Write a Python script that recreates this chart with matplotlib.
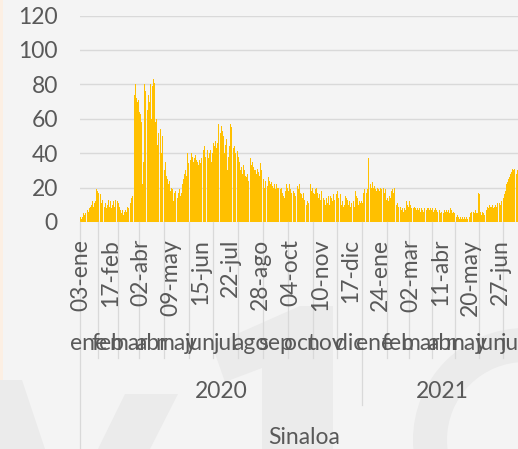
import numpy as np
import matplotlib
matplotlib.use('Agg')
import matplotlib.pyplot as plt
from matplotlib.patches import Polygon, Wedge, Rectangle
from matplotlib.transforms import blended_transform_factory

plt.rcParams['font.family'] = ['Lato', 'DejaVu Sans']

# daily values, Sinaloa
values = [
    3, 2, 4, 3, 5, 4, 5, 6, 4, 7, 6, 8, 9, 7, 10, 12, 9, 11, 14, 12, 19, 18,
    17, 15, 13, 16, 11, 13, 10, 12, 9, 11, 8, 10, 7, 13, 9, 12, 8, 11, 10,
    12, 9, 13, 10, 8, 12, 11, 9, 7, 6, 5, 7, 4, 6, 5, 7, 6, 9, 8, 10, 12, 11, 14,
    15, 81, 79, 74, 80, 72, 70, 66, 71, 64, 63, 58, 62, 22, 35, 80, 76, 79,
    72, 65, 74, 70, 80, 77, 60, 79, 83, 81, 62, 58, 60, 45, 52, 48,
    55, 54, 40, 50, 48, 46, 30, 35, 27, 25, 26, 22, 24,
    18, 20, 15, 19, 12, 17, 18, 16, 19, 14, 17, 19, 15, 18, 17,
    22, 25, 28, 24, 30, 27, 40, 34, 39, 41, 36, 40, 38, 35, 40, 37, 39, 36,
    35, 37, 33, 36, 34, 37, 43, 40, 42, 44, 38, 43, 41, 42,
    37, 40, 42, 38, 35, 40, 46, 44, 45, 47, 43, 46, 57, 55, 30, 52, 56,
    53, 50, 52, 40, 45, 48, 30, 42, 38, 44, 57, 55, 48, 50,
    43, 44, 40, 42, 38, 41, 38, 35, 30, 36, 32, 28, 33, 30,
    25, 27, 26, 28, 24, 27, 26, 37, 33, 35, 32, 34, 30,
    30, 28, 31, 26, 29, 27, 34, 30, 26, 28, 25, 20, 24, 22, 25, 21,
    26, 24, 22, 25, 23, 21, 20, 22, 21, 19, 22, 20, 20, 18, 21, 19, 20, 17,
    15, 16, 14, 18, 22, 20, 21, 18, 22, 19, 17, 18, 16, 18, 17, 15,
    22, 20, 21, 19, 22, 17, 15, 16, 14, 17, 13, 16, 15, 10, 12, 11, 9, 13,
    22, 18, 20, 17, 21, 16, 19, 20, 17, 15, 14, 16, 13, 18, 12, 15, 14, 13,
    10, 14, 12, 11, 15, 10, 15, 13, 14, 12, 16, 13,
    17, 15, 16, 18, 14, 17, 15, 16, 10, 12, 9, 11, 10, 15, 14, 13,
    8, 10, 12, 9, 11, 8, 10, 12, 9, 18, 15, 17, 14, 10, 12, 11, 10, 12, 11,
    17, 19, 18, 20, 17, 19, 37, 36, 25, 22, 20, 23,
    20, 18, 21, 19, 18, 20, 17, 19, 18, 20, 19, 21, 18, 20, 17, 19,
    13, 15, 14, 12, 15, 14, 20, 18, 19, 17, 20, 16, 18,
    10, 11, 9, 10, 12, 9, 7, 8, 6, 7, 8, 7, 12, 10, 11, 9, 12, 10,
    8, 9, 7, 8, 9, 8, 7, 9, 8, 7, 8, 6, 7, 8, 7, 6, 8, 7, 6, 7, 8,
    8, 7, 9, 8, 7, 8, 6, 8, 7, 8, 7, 6, 5, 6, 7, 5, 6, 4, 6, 5, 7,
    6, 7, 8, 6, 7, 5, 8, 6, 7, 5, 6, 5, 3, 4, 3, 4, 3, 2, 4, 3,
    2, 3, 2, 1, 3, 2, 3, 2, 3, 4, 3, 5, 6, 4, 5, 6, 5, 7, 5, 6, 5,
    17, 16, 6, 5, 4, 6, 5, 4, 8, 9, 7, 9, 8, 10, 8, 9,
    9, 10, 8, 11, 9, 10, 9, 11, 10, 9, 11, 10, 12, 13, 15, 14, 16, 18,
    22, 24, 23, 25, 26, 28, 30, 29, 31,
    30, 31, 29, 27, 28, 30, 26, 28, 27, 29, 28,
]

day_labels = ['03-ene', '17-feb', '02-abr', '09-may', '15-jun', '22-jul', '28-ago',
              '04-oct', '10-nov', '17-dic', '24-ene', '02-mar', '11-abr', '20-may',
              '27-jun']
label_step = 37

month_names = ['ene', 'feb', 'mar', 'abr', 'may', 'jun', 'jul', 'ago', 'sep', 'oct',
               'nov', 'dic', 'ene', 'feb', 'mar', 'abr', 'may', 'jun', 'jul']
month_days = [22, 25, 26, 30, 31, 30, 31, 31, 30, 31, 30, 31, 30, 28, 28, 28, 30, 30]
years = ['2020', '2021']
months_per_year = [12, 7]
state = 'Sinaloa'

n = len(values)
month_days = month_days + [n - sum(month_days)]

W, H = 518, 449
def fx(px):
    return px / W
def fy(py):
    return 1 - py / H

bg = '#f4f4f4'
grid_c = '#d9d9d9'
txt_c = '#595959'
fs = 16.5

fig = plt.figure(figsize=(W / 100, H / 100), dpi=100, facecolor=bg)

# faint watermark behind the chart
wm = fig.add_axes([0, 0, 1, 1], zorder=0)
wm.set_xlim(0, W)
wm.set_ylim(H, 0)
wm.axis('off')
wm_c = '#ebebeb'
wm.add_patch(Rectangle((0, 0), 3, H, color='#fcefe3', lw=0))
wm.add_patch(Polygon([(0, 380), (22, 380), (45, 449), (0, 449)], color=wm_c, lw=0))
wm.add_patch(Polygon([(125, 394), (178, 394), (150, 449), (98, 449)], color=wm_c, lw=0))
wm.add_patch(Polygon([(212, 345), (300, 306), (333, 306), (333, 449), (262, 449),
                      (262, 368), (225, 382)], color=wm_c, lw=0))
wm.add_patch(Wedge((525, 440), 112, 0, 360, width=34, color=wm_c, lw=0))

ax = fig.add_axes([fx(80), fy(222), fx(522) - fx(80), fy(15.5) - fy(222)], zorder=1)
ax.patch.set_alpha(0)
x = np.arange(n)
ax.bar(x, values, width=0.9, color='#FFC000', linewidth=0, zorder=2)
ax.set_xlim(-0.5, n - 0.5)
ax.set_ylim(0, 120)
ax.set_yticks(range(0, 121, 20))
ax.yaxis.grid(True, color=grid_c, lw=1.0)
ax.set_axisbelow(True)
for s in ax.spines.values():
    s.set_visible(False)
ax.tick_params(axis='y', length=0, pad=16, labelsize=fs, labelcolor=txt_c)
ax.set_xticks([])

tr = blended_transform_factory(ax.transData, fig.transFigure)
line_kw = dict(color=grid_c, lw=0.9, transform=tr, clip_on=False)

# level 1: day labels
for i, lab in enumerate(day_labels):
    ax.text(i * label_step, fy(239), lab, transform=tr, rotation=90, ha='center',
            va='top', fontsize=fs, color=txt_c)

# level 2: months
starts = np.concatenate([[0], np.cumsum(month_days)])
for k, name in enumerate(month_names):
    c = (starts[k] + starts[k + 1]) / 2 - 0.5
    ax.text(c, fy(344), name, transform=tr, ha='center', va='center',
            fontsize=fs, color=txt_c)

# level 3: years
ystarts = np.concatenate([[0], np.cumsum(months_per_year)])
year_bounds = [starts[m] for m in ystarts]
for k, yr in enumerate(years):
    c = (year_bounds[k] + year_bounds[k + 1]) / 2 - 0.5
    ax.text(c, fy(391), yr, transform=tr, ha='center', va='center',
            fontsize=fs, color=txt_c)

# level 4: state
ax.text((n - 1) / 2 + 4, fy(437), state, transform=tr, ha='center', va='center',
        fontsize=fs, color=txt_c)

# group separators
for b in starts[1:-1]:
    bottom = 405 if b in year_bounds else 358
    ax.plot([b - 0.5, b - 0.5], [fy(222), fy(bottom)], **line_kw)
ax.plot([-0.5, -0.5], [fy(222), 0], **line_kw)
ax.plot([n - 0.5, n - 0.5], [fy(222), 0], **line_kw)

fig.savefig('out.png', dpi=100, facecolor=bg)
